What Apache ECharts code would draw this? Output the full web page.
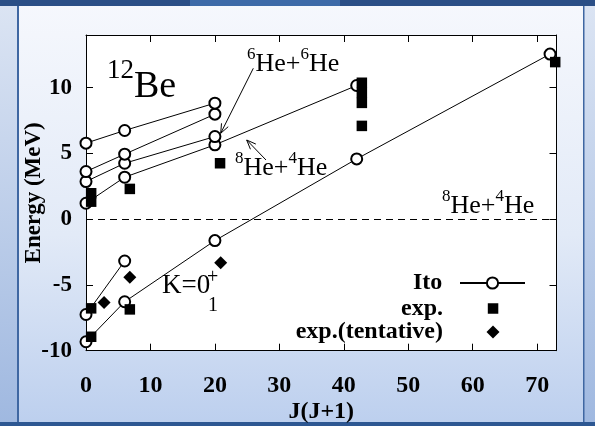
<!DOCTYPE html>
<html>
<head>
<meta charset="utf-8">
<script src="https://cdn.jsdelivr.net/npm/echarts@6/dist/echarts.min.js"></script>
<style>
  html, body { margin: 0; padding: 0; background: #ffffff; }
  #chart { width: 595px; height: 426px; }
</style>
</head>
<body>
<div id="chart"></div>
<script>
// Tick values on both axes
const xTicks = [0, 10, 20, 30, 40, 50, 60, 70];
const yTicks = [-10, -5, 0, 5, 10];

// Ito calculation, rotational bands: [J(J+1), E (MeV)]
const itoGround = [[0, -9.32], [6, -6.28], [20, -1.63], [42, 4.58], [72, 12.55]];
const itoSecond = [[0, -7.25], [6, -3.18]];
const itoBand1 = [[0, 1.21], [6, 3.19], [20, 5.65], [42, 10.16]];
const itoBand2 = [[0, 2.86], [6, 4.25], [20, 6.28]];
const itoBand3 = [[0, 3.62], [6, 4.94], [20, 7.98]];
const itoBand4 = [[0, 5.78], [6, 6.74], [20, 8.82]];

// Measured levels
const expLevels = [
  [0.8, -8.94], [0.8, -6.78], [6.8, -6.86],
  [0.8, 1.33], [0.8, 1.97], [6.8, 2.30], [20.8, 4.25],
  [42.8, 7.09], [42.8, 8.84], [42.8, 9.60], [42.8, 10.37],
  [72.8, 11.94]
];
// Tentative assignments
const expTentative = [[2.8, -6.33], [6.8, -4.42], [20.9, -3.31]];

const serif = "'Liberation Serif', 'Times New Roman', serif";

const chart = echarts.init(document.getElementById('chart'), null, { renderer: 'canvas' });

function itoSeries(data, withZeroLine) {
  const s = {
    name: 'Ito',
    type: 'line',
    data: data,
    symbol: 'emptyCircle',
    symbolSize: 11,
    showAllSymbol: true,
    lineStyle: { color: '#000', width: 1 },
    itemStyle: { color: '#000', borderColor: '#000', borderWidth: 0.9, opacity: 1 },
    emphasis: { disabled: true },
    silent: true,
    z: 3
  };
  if (withZeroLine) {
    s.markLine = {
      silent: true,
      symbol: 'none',
      label: { show: false },
      lineStyle: { color: '#000', width: 1, type: [7, 5] },
      data: [{ yAxis: 0 }]
    };
  }
  return s;
}

const legendText = {
  fontFamily: serif, fontWeight: 'bold', fontSize: 24, color: '#000', lineHeight: 24
};

const option = {
  backgroundColor: {
    type: 'linear', x: 0, y: 0, x2: 0, y2: 1,
    colorStops: [
      { offset: 0, color: '#f6f8fd' },
      { offset: 0.55, color: '#e2eaf7' },
      { offset: 1, color: '#bccfee' }
    ]
  },
  animation: false,
  grid: {
    left: 86, top: 35, right: 38.5, bottom: 75.3,
    show: true, backgroundColor: '#ffffff', borderWidth: 0,
    outerBoundsMode: 'none'
  },
  legend: [
    {
      data: ['Ito'], right: 69, top: 271, align: 'right', padding: 0,
      itemWidth: 65, itemHeight: 14, selectedMode: false,
      textStyle: Object.assign({ padding: [0, 12.7, 0, 0] }, legendText)
    },
    {
      data: ['exp.'], right: 96.7, top: 296.5, align: 'right', padding: 0,
      itemWidth: 10.5, itemHeight: 10.5, selectedMode: false,
      textStyle: Object.assign({ padding: [0, 39.7, 0, 0] }, legendText)
    },
    {
      data: ['exp.(tentative)'], right: 95.5, top: 320, align: 'right', padding: 0,
      itemWidth: 13, itemHeight: 13, selectedMode: false,
      textStyle: Object.assign({ padding: [0, 38.5, 0, 0] }, legendText)
    }
  ],
  xAxis: [
    {
      type: 'value', min: 0, max: 73, position: 'bottom',
      name: 'J(J+1)', nameLocation: 'middle', nameGap: 49, nameMoveOverlap: false,
      nameTextStyle: { fontFamily: serif, fontWeight: 'bold', fontSize: 24, color: '#000' },
      axisLine: { show: true, onZero: false, lineStyle: { color: '#000', width: 1 } },
      axisTick: { show: true, inside: true, length: 7, customValues: xTicks, lineStyle: { color: '#000' } },
      axisLabel: {
        show: true, customValues: xTicks, margin: 23,
        fontFamily: serif, fontWeight: 'bold', fontSize: 24, color: '#000'
      },
      splitLine: { show: false }
    },
    {
      type: 'value', min: 0, max: 73, position: 'top',
      axisLine: { show: true, onZero: false, lineStyle: { color: '#000', width: 1 } },
      axisTick: { show: true, inside: true, length: 7, customValues: xTicks, lineStyle: { color: '#000' } },
      axisLabel: { show: false },
      splitLine: { show: false }
    }
  ],
  yAxis: [
    {
      type: 'value', min: -10, max: 14, position: 'left',
      name: 'Energy (MeV)', nameLocation: 'middle', nameGap: 40, nameRotate: 90, nameMoveOverlap: false,
      nameTextStyle: { fontFamily: serif, fontWeight: 'bold', fontSize: 23, color: '#000' },
      axisLine: { show: true, onZero: false, lineStyle: { color: '#000', width: 1 } },
      axisTick: { show: true, inside: true, length: 7, customValues: yTicks, lineStyle: { color: '#000' } },
      axisLabel: {
        show: true, customValues: yTicks, margin: 14,
        fontFamily: serif, fontWeight: 'bold', fontSize: 23, color: '#000'
      },
      splitLine: { show: false }
    },
    {
      type: 'value', min: -10, max: 14, position: 'right',
      axisLine: { show: true, onZero: false, lineStyle: { color: '#000', width: 1 } },
      axisTick: { show: true, inside: true, length: 7, customValues: yTicks, lineStyle: { color: '#000' } },
      axisLabel: { show: false },
      splitLine: { show: false }
    }
  ],
  series: [
    itoSeries(itoGround, true),
    itoSeries(itoSecond),
    itoSeries(itoBand1),
    itoSeries(itoBand2),
    itoSeries(itoBand3),
    itoSeries(itoBand4),
    {
      name: 'exp.', type: 'scatter', data: expLevels,
      symbol: 'rect', symbolSize: 10.5, clip: false,
      itemStyle: { color: '#000', opacity: 1 }, emphasis: { disabled: true }, silent: true, z: 4
    },
    {
      name: 'exp.(tentative)', type: 'scatter', data: expTentative,
      symbol: 'diamond', symbolSize: 13, clip: false,
      itemStyle: { color: '#000', opacity: 1 }, emphasis: { disabled: true }, silent: true, z: 4
    }
  ]
};

chart.setOption(option);

// Decorative slide frame and text annotations
function arrow(x1, y1, x2, y2) {
  const L = 10, a = 22 * Math.PI / 180;
  const ang = Math.atan2(y2 - y1, x2 - x1);
  const p1 = [x2 - L * Math.cos(ang - a), y2 - L * Math.sin(ang - a)];
  const p2 = [x2 - L * Math.cos(ang + a), y2 - L * Math.sin(ang + a)];
  return [
    { type: 'line', z: 50, shape: { x1, y1, x2, y2 }, style: { stroke: '#000', lineWidth: 1 } },
    { type: 'polyline', z: 50, shape: { points: [p1, [x2, y2], p2] }, style: { stroke: '#000', lineWidth: 1, fill: null } }
  ];
}

const supRich = {
  m: { fontFamily: serif, fontSize: 26, lineHeight: 26, verticalAlign: 'bottom', color: '#000' },
  s: { fontFamily: serif, fontSize: 17, lineHeight: 17, verticalAlign: 'bottom', padding: [0, 0, 14, 0], color: '#000' }
};

function txt(x, y, text, size, extra) {
  return {
    type: 'text', z: 60, x: x, y: y,
    style: Object.assign({ text: text, fontFamily: serif, fontSize: size, fill: '#000', verticalAlign: 'bottom', align: 'left' }, extra || {})
  };
}

const graphics = [
  // top band
  { type: 'rect', z: -5, shape: { x: 0, y: 0, width: 595, height: 6 }, style: { fill: '#2b4f86' } },
  { type: 'rect', z: -5, shape: { x: 190, y: 0, width: 150, height: 6 }, style: { fill: '#3d6aa8' } },
  // left stripe
  { type: 'rect', z: -5, shape: { x: 0, y: 6, width: 17, height: 420 },
    style: { fill: { type: 'linear', x: 0, y: 0, x2: 0, y2: 1, colorStops: [{ offset: 0, color: '#dbe4f3' }, { offset: 1, color: '#9fb8e0' }] } } },
  { type: 'rect', z: -5, shape: { x: 17, y: 6, width: 2, height: 420 }, style: { fill: '#3f67a2' } },
  // right stripe
  { type: 'rect', z: -5, shape: { x: 584, y: 6, width: 11, height: 420 },
    style: { fill: { type: 'linear', x: 0, y: 0, x2: 0, y2: 1, colorStops: [{ offset: 0, color: '#dbe4f3' }, { offset: 1, color: '#9fb8e0' }] } } },
  { type: 'rect', z: -5, shape: { x: 583, y: 6, width: 1.5, height: 420 }, style: { fill: '#3f67a2' } },
  // bottom band
  { type: 'rect', z: -5, shape: { x: 0, y: 422, width: 595, height: 4 }, style: { fill: '#2d5792' } },

  // nucleus label
  txt(107, 84, '12', 27),
  txt(134, 106, 'Be', 38),
  // cluster thresholds
  { type: 'text', z: 60, x: 247, y: 77.5,
    style: { text: '{s|6}{m|He+}{s|6}{m|He}', rich: supRich, verticalAlign: 'bottom', align: 'left' } },
  { type: 'text', z: 60, x: 235, y: 181,
    style: { text: '{s|8}{m|He+}{s|4}{m|He}', rich: supRich, verticalAlign: 'bottom', align: 'left' } },
  { type: 'text', z: 60, x: 442, y: 219.5,
    style: { text: '{s|8}{m|He+}{s|4}{m|He}', rich: supRich, verticalAlign: 'bottom', align: 'left' } },
  // band label K=0_1^+
  txt(162, 299.5, 'K=0', 27),
  txt(207, 288, '+', 20),
  txt(208, 316, '1', 20)
].concat(arrow(253.3, 68.3, 220.7, 133.3), arrow(266, 160, 246.7, 140));

chart.setOption({ graphic: { elements: graphics } });
</script>
</body>
</html>
